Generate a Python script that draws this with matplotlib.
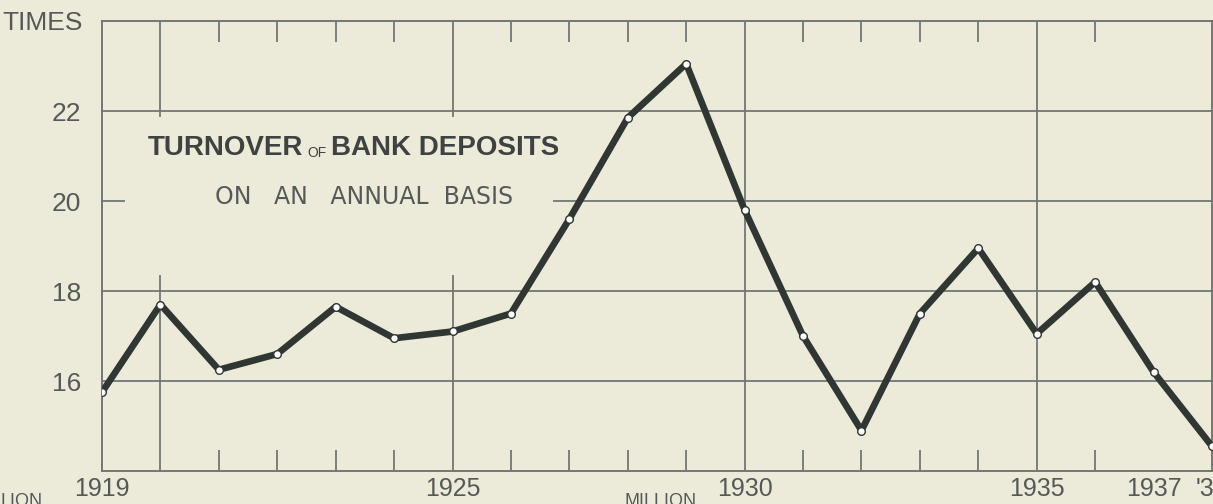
import matplotlib
matplotlib.use("Agg")
import matplotlib.pyplot as plt
from matplotlib.patches import Rectangle
from matplotlib.transforms import IdentityTransform

# ---- data ----
years = [1919, 1920, 1921, 1922, 1923, 1924, 1925, 1926, 1927, 1928,
         1929, 1930, 1931, 1932, 1933, 1934, 1935, 1936, 1937, 1938]
turnover = [15.75, 17.7, 16.25, 16.6, 17.65, 16.95, 17.1, 17.5, 19.6, 21.85,
            23.05, 19.8, 17.0, 14.9, 17.5, 18.95, 17.05, 18.2, 16.2, 14.55]
x_label_pos = [1919, 1925, 1930, 1935, 1937, 1938]
x_labels = ["1919", "1925", "1930", "1935", "1937", "'38"]
grid_years = [1920, 1925, 1930, 1935]
y_ticks = [16, 18, 20, 22]
y_labels = ["16", "18", "20", "22"]

BG = "#ecebd9"
INK = "#555a58"
TITLE_INK = "#3e4341"
GRID = "#727772"
LINE = "#303631"
LAB = ["Liberation Sans", "DejaVu Sans"]
W, H = 1213, 504

fig = plt.figure(figsize=(W/100, H/100), dpi=100, facecolor=BG)
ax = fig.add_axes([102/W, 33/H, 1110/W, 450/H], facecolor=BG)
ax.set_xlim(1919, 1938)
ax.set_ylim(14, 24)

# grid
for g in y_ticks:
    ax.axhline(g, color=GRID, lw=1.3, zorder=1)
for g in grid_years:
    ax.axvline(g, color=GRID, lw=1.3, zorder=1)

# blank area behind the title (breaks the grid like the original)
ax.add_patch(Rectangle((23/1110, (471-275)/450), (553-125)/1110, (275-117)/450,
                       transform=ax.transAxes, facecolor=BG, edgecolor="none", zorder=2))

# data line
ax.plot(years, turnover, color=LINE, lw=4.8, solid_capstyle="round",
        solid_joinstyle="round", zorder=4,
        marker="o", markersize=5.5, markerfacecolor="white",
        markeredgecolor=LINE, markeredgewidth=1.0)

for s in ax.spines.values():
    s.set_color(GRID)
    s.set_linewidth(1.4)

ax.set_xticks(x_label_pos)
ax.set_xticklabels(x_labels, family=LAB, fontsize=18, color=INK)
minor_years = [y for y in years if y not in grid_years and y not in (1919, 1938)]
ax.set_xticks(minor_years, minor=True)
ax.tick_params(axis="x", which="major", length=0, pad=4)
ax.tick_params(axis="x", which="minor", direction="in", length=15, width=1.3,
               color=GRID, top=True, bottom=True)
ax.set_yticks(y_ticks)
ax.set_yticklabels(y_labels, family=LAB, fontsize=19, color=INK)
ax.tick_params(axis="y", length=0, pad=15)

# labels outside
fig.text(2/W, 1 - 23/H, "TIMES", family=LAB, fontsize=19, color=INK,
         ha="left", va="center")

# title
t1 = fig.text(148/W, 1 - 148/H, "TURNOVER", family=LAB, fontweight="bold",
              fontsize=20, color=TITLE_INK, ha="left", va="center", zorder=5)
t2 = fig.text(0, 0, "OF", family=LAB, fontsize=10, color=TITLE_INK,
              ha="left", va="bottom", zorder=5)
t3 = fig.text(0, 0, "BANK DEPOSITS", family=LAB, fontweight="bold",
              fontsize=20, color=TITLE_INK, ha="left", va="bottom", zorder=5)
fig.canvas.draw()
r = fig.canvas.get_renderer()
bb1 = t1.get_window_extent(r)
t2.set_transform(IdentityTransform())
t2.set_position((bb1.x1 + 4, bb1.y0 + 1))
bb2 = t2.get_window_extent(r)
t3.set_transform(IdentityTransform())
t3.set_position((bb2.x1 + 4, bb1.y0))

fig.text(215/W, 1 - 197/H, "ON   AN   ANNUAL  BASIS", family="DejaVu Sans",
         fontsize=17, color=INK, ha="left", va="center", zorder=5)

# cropped text from the chart below
fig.text(0/W, 1 - 493/H, "LION", family=LAB, fontsize=13, color=INK,
         ha="left", va="top")
fig.text(624/W, 1 - 493/H, "MILLION", family=LAB, fontsize=13, color=INK,
         ha="left", va="top")

fig.savefig("out.png", dpi=100, facecolor=BG)
